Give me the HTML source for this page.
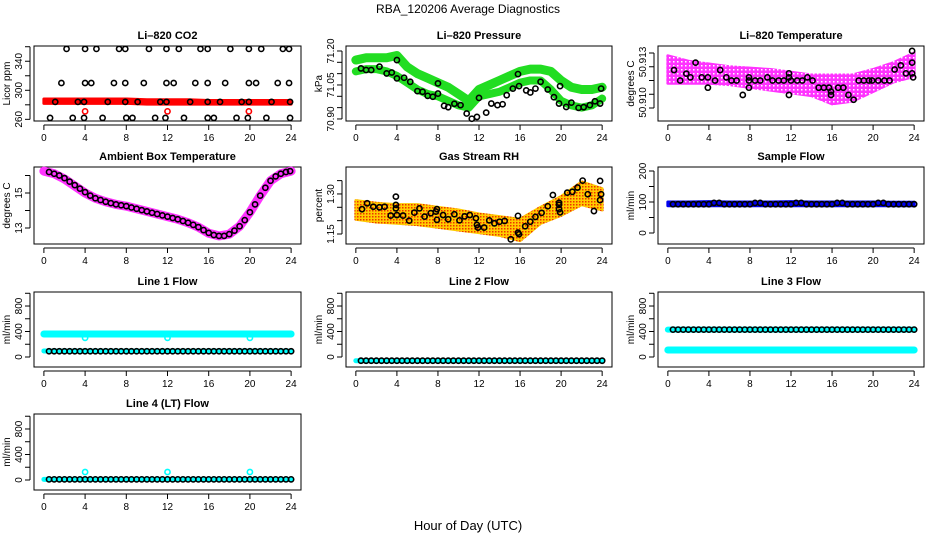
<!DOCTYPE html>
<html><head><meta charset="utf-8"><style>
html,body{margin:0;padding:0;background:#fff}
svg{display:block;font-family:"Liberation Sans",sans-serif}
</style></head><body>
<svg id="c" width="936" height="540" viewBox="0 0 936 540" xmlns="http://www.w3.org/2000/svg">
<defs>
<pattern id="magpat" width="4" height="4" patternUnits="userSpaceOnUse"><rect width="4" height="4" fill="#ff33ff"/><rect x="1" y="1" width="1.5" height="1.5" fill="#ffffff"/></pattern>
<pattern id="rhpat" width="3" height="3" patternUnits="userSpaceOnUse"><rect width="3" height="3" fill="#ffcc00"/><rect x="0" y="0" width="1.5" height="1.5" fill="#ee3300"/></pattern>
</defs>
<text x="468" y="13" text-anchor="middle" font-size="12">RBA_120206  Average Diagnostics</text>
<text x="468" y="530" text-anchor="middle" font-size="13">Hour of Day (UTC)</text>
</svg>
<script>
// ---- data ----
const hoursTicks = [0,4,8,12,16,20,24];
const band2hTimes = [0,2,4,6,8,10,12,14,16,18,20,22,24];
const hourly = [0,1,2,3,4,5,6,7,8,9,10,11,12,13,14,15,16,17,18,19,20,21,22,23,24];
// CO2
const co2RedHi = [288,288,288,288,288,287,287,287,286,286,286,286,286];
const co2RedLo = [282,282,282,282,282,281,281,281,281,281,281,281,281];
const co2BlackT = [2.2,4.0,5.1,7.3,7.9,10.2,11.9,13.1,15.2,15.9,18.1,19.9,21.1,23.2,23.8,
 1.7,4.0,4.6,6.8,7.9,9.7,11.9,12.6,14.7,15.9,17.6,19.9,20.6,22.7,23.8,
 1.1,3.3,3.9,6.2,7.9,9.1,11.3,11.9,14.2,15.9,17.1,19.2,19.9,22.1,23.9,
 0.6,2.8,3.9,5.7,8.0,8.6,10.8,11.8,13.6,15.9,16.5,18.7,19.8,21.6,23.9];
const co2BlackV = [357,357,357,357,357,357,357,357,357,357,357,357,357,357,357,
 310,310,310,310,310,310,310,310,310,310,310,310,310,310,310,
 284,284,284,284,284,284,284,284,284,284,284,284,284,284,284,
 262,262,262,262,262,262,262,262,262,262,262,262,262,262,262];
const co2RedT = [4.0,12.0,19.9];
const co2RedV = [271,271,271];
// Pressure
const presUpper = [71.16,71.17,71.17,71.17,71.18,71.13,71.10,71.08,71.06,71.04,71.01,70.98,71.03,71.05,71.07,71.09,71.11,71.12,71.12,71.11,71.07,71.04,71.03,71.03,71.04];
const presLower = [71.11,71.12,71.12,71.11,71.09,71.06,71.03,71.01,71.00,70.98,70.96,70.95,71.00,71.01,71.02,71.04,71.06,71.07,71.07,71.03,70.98,70.96,70.95,70.96,70.99];
const presBlackT = [0.5,1,1.5,2.3,3,3.5,4,4,4.7,5.3,6,6.5,7,7.5,8,8,8.6,9,9.6,10.2,10.8,11.3,11.8,12,12.7,13.2,13.8,14.3,14.7,15.3,15.8,15.9,16.6,17,17.5,18,18.7,19.3,19.8,19.9,20.5,21,21.7,22.2,22.8,23.3,23.8,23.9];
const presBlackV = [71.123,71.116,71.116,71.131,71.101,71.105,71.160,71.079,71.082,71.064,71.023,71.020,71.002,70.998,71.057,71.012,70.958,70.952,70.967,70.961,70.924,70.901,70.909,70.993,70.928,70.968,70.961,70.965,71.005,71.034,71.098,71.045,71.026,71.017,71.034,71.064,71.030,70.996,70.968,71.045,70.953,70.972,70.949,70.952,70.961,70.978,70.968,71.034];
// Li-820 temperature (units = tick index)
const tempHi = [3.8,3.4,3.2,3.0,2.9,2.8,2.6,2.4,2.4,2.4,2.8,3.3,4.0];
const tempLo = [1.8,1.8,1.8,1.7,1.5,1.3,1.1,0.9,0.3,0.5,1.2,1.9,2.3];
const tempBlackT = [0.6,1.2,1.8,2.2,2.7,3.3,3.9,3.9,4.6,5.1,5.7,6.2,6.7,7.3,7.9,7.9,7.9,8.5,9.0,9.7,10.2,10.8,11.3,11.8,11.8,11.8,12.0,12.6,13.1,13.6,14.1,14.7,15.2,15.7,15.9,15.9,16.6,17.1,17.6,18.1,18.6,19.1,19.6,19.9,20.5,21.1,21.6,22.1,22.7,23.2,23.8,23.8,23.8,23.9];
const tempBlackV = [2.76,2.0,2.5,2.23,3.3,2.23,2.23,1.48,2.0,2.76,2.23,2.0,2.0,0.95,2.23,2.0,1.48,2.0,2.0,2.23,2.0,2.0,2.0,2.52,2.23,0.95,2.0,2.0,2.0,2.23,2.0,1.48,1.48,1.48,1.2,0.95,1.48,1.48,0.95,0.6,2.0,2.0,2.0,2.0,2.0,2.0,2.0,2.8,3.1,2.52,4.15,3.3,2.52,2.23];
const tempTickLabelPos = [3.35,0.4];
const tempTickLabels = ["50.913","50.910"];
// Ambient box temperature
const ambCurve = [16.25,16.1,15.8,15.4,15.0,14.7,14.5,14.35,14.25,14.1,13.95,13.8,13.65,13.5,13.3,13.05,12.7,12.55,12.65,13.1,13.9,14.85,15.7,16.1,16.25];
const ambBlackV = [16.2,16.1,16.0,15.85,15.65,15.45,15.25,15.05,14.85,14.7,14.6,14.5,14.42,14.35,14.3,14.25,14.17,14.1,14.02,13.95,13.87,13.8,13.72,13.65,13.57,13.5,13.4,13.3,13.18,13.05,12.88,12.72,12.6,12.55,12.55,12.65,12.85,13.1,13.45,13.9,14.35,14.85,15.3,15.7,15.95,16.1,16.2,16.25];
// Gas stream RH
const rhHi = [1.275,1.265,1.26,1.26,1.25,1.24,1.225,1.215,1.205,1.25,1.29,1.345,1.32];
const rhLo = [1.205,1.195,1.19,1.185,1.175,1.165,1.155,1.145,1.125,1.19,1.22,1.26,1.24];
const rhBlackT = [0.6,1.1,1.7,2.3,2.8,3.4,3.9,3.9,3.9,4.0,4.6,5.2,5.7,6.2,6.7,7.3,7.8,7.9,7.9,8.5,9.0,9.6,10.1,10.6,11.1,11.7,11.8,11.9,12.5,13.0,13.5,14.0,14.5,15.1,15.8,15.8,15.9,16.5,17.0,17.5,18.1,18.7,19.2,19.8,19.8,19.8,19.9,20.6,21.1,21.6,22.1,22.6,23.2,23.8,23.8,23.9];
const rhBlackV = [1.243,1.265,1.252,1.25,1.252,1.219,1.29,1.259,1.246,1.221,1.219,1.2,1.23,1.246,1.215,1.228,1.234,1.243,1.203,1.221,1.205,1.224,1.201,1.216,1.221,1.209,1.184,1.174,1.174,1.201,1.19,1.196,1.199,1.13,1.218,1.155,1.149,1.179,1.196,1.214,1.229,1.254,1.296,1.267,1.259,1.243,1.231,1.305,1.308,1.324,1.35,1.299,1.236,1.277,1.349,1.299];
// Sample flow
const sampleHi = [100,100,101,100,100,100,101,100,100,100,100,99,99];
const sampleLo = [88,88,88,88,88,88,88,88,88,88,88,88,88];
const sampleBlack = [93,93,93,93,97,93,93,93,97,93,93,93,97,93,93,93,97,93,93,93,97,93,93,93];
// Line flows
const line1Black = [90,90,90,90,90,90,90,90,90,90,90,90,90,90,90,90,90,90,90,90,90,90,90,90];
const line1Cyan = 361, line1CyanLow = 95;
const line1CircT = [4,12,20];
const line1CircV = [300,300,300];
const line2Black = [-58,-58,-58,-58,-58,-58,-58,-58,-58,-58,-58,-58,-58,-58,-58,-58,-58,-58,-58,-58,-58,-58,-58,-58];
const line3Black = [430,430,430,430,430,430,430,430,430,430,430,430,430,430,430,430,430,430,430,430,430,430,430,430];
const line3CyanHi = 430, line3CyanLow = 110;
const line4Black = [10,10,10,10,10,10,10,10,10,10,10,10,10,10,10,10,10,10,10,10,10,10,10,10];
const line4CircT = [4,12,20];
const line4CircV = [125,125,125];

// ---- drawing ----
const NS = "http://www.w3.org/2000/svg";
const svg = document.getElementById('c');
const COLS = [[34,301],[346,612],[658,924]];
const ROWS = [[46,121],[167,244],[292,367],[414,490]];
function mk(tag, attrs, parent){const e=document.createElementNS(NS,tag);for(const k in attrs)e.setAttribute(k,attrs[k]);(parent||svg).appendChild(e);return e;}

function panel(ci, ri, name, title, ylab, dom, ticks, labVals, labTexts){
  const [L,R]=COLS[ci],[T,B]=ROWS[ri];
  const g=mk('g',{});
  
  
  const sx=t=>L+(t+0.96)/25.92*(R-L);
  const sy=v=>B-(v-dom[0])/(dom[1]-dom[0])*(B-T);
  const box=mk('rect',{x:L,y:T,width:R-L,height:B-T,fill:'none',stroke:'#000','stroke-width':1},g);
  
  
  const tt=mk('text',{x:(L+R)/2,y:T-7,'text-anchor':'middle','font-size':11,'font-weight':'bold'},g);
  tt.textContent=title;
  
  
  const xa=mk('g',{},g);
  
  
  mk('line',{x1:sx(0),x2:sx(24),y1:B+4,y2:B+4,stroke:'#000'},xa);
  hoursTicks.forEach(h=>{
    mk('line',{x1:sx(h),x2:sx(h),y1:B+4,y2:B+9,stroke:'#000'},xa);
    const t=mk('text',{x:sx(h),y:B+20,'text-anchor':'middle','font-size':10},xa);t.textContent=h;
  });
  const ya=mk('g',{},g);
  
  
  mk('line',{x1:L-4,x2:L-4,y1:sy(ticks[0]),y2:sy(ticks[ticks.length-1]),stroke:'#000'},ya);
  ticks.forEach(v=>mk('line',{x1:L-9,x2:L-4,y1:sy(v),y2:sy(v),stroke:'#000'},ya));
  labVals.forEach((v,i)=>{
    const t=mk('text',{x:0,y:0,'text-anchor':'middle','font-size':10,transform:`translate(${L-12},${sy(v)}) rotate(-90)`},ya);
    t.textContent=labTexts[i];
  });
  const yl=mk('text',{x:0,y:0,'text-anchor':'middle','font-size':10,transform:`translate(${L-24},${(T+B)/2}) rotate(-90)`},g);
  yl.textContent=ylab;
  
  
  return {g,sx,sy};
}
function band(p, ts, hi, lo, color, name){
  const pts=ts.map((t,i)=>p.sx(t)+','+p.sy(hi[i])).concat(ts.slice().reverse().map((t,j)=>{const i=ts.length-1-j;return p.sx(t)+','+p.sy(lo[i]);}));
  const e=mk('polygon',{points:pts.join(' '),fill:color,stroke:color,'stroke-width':3,'stroke-linejoin':'round'},p.g);
  
  
}
function thick(p, ts, vs, color, w, name){
  const e=mk('polyline',{points:ts.map((t,i)=>p.sx(t)+','+p.sy(vs[i])).join(' '),fill:'none',stroke:color,'stroke-width':w,'stroke-linejoin':'round','stroke-linecap':'round'},p.g);
  
  
}
function pts(p, ts, vs, color, name){
  const gg=mk('g',{},p.g);
  
  
  ts.forEach((t,i)=>mk('circle',{cx:p.sx(t),cy:p.sy(vs[i]),r:2.6,fill:'none',stroke:color,'stroke-width':1.6},gg));
}
function hourlyPts(p, vs, color, name){
  const ts=[],v2=[];
  vs.forEach((v,i)=>{ts.push(i+0.5);v2.push(v);ts.push(i+1);v2.push(v);});
  pts(p, ts, v2, color, name);
}

let p=panel(0,0,'co2','Li\u2013820 CO2','Licor ppm',[257.7,361],[260,280,300,320,340,360],[260,300,340],['260','300','340']);
band(p,band2hTimes,co2RedHi,co2RedLo,'#ff0000','co2-red-series');
pts(p,co2BlackT,co2BlackV,'#000','co2-black-points');
pts(p,co2RedT,co2RedV,'#ff0000','co2-red-points');

p=panel(1,0,'pressure','Li\u2013820 Pressure','kPa',[70.891,71.222],[70.90,70.95,71.00,71.05,71.10,71.15,71.20],[70.90,71.05,71.20],['70.90','71.05','71.20']);
thick(p,hourly,presUpper,'#22dd22',9,'pressure-green-upper');
thick(p,hourly,presLower,'#22dd22',8,'pressure-green-lower');
pts(p,presBlackT,presBlackV,'#000','pressure-black-points');

p=panel(2,0,'li820-temp','Li\u2013820 Temperature','degrees C',[-0.945,4.51],[0,1,2,3,4],tempTickLabelPos,tempTickLabels);
band(p,band2hTimes,tempHi,tempLo,'url(#magpat)','temp-magenta-series');
pts(p,tempBlackT,tempBlackV,'#000','temp-black-points');

p=panel(0,1,'ambient','Ambient Box Temperature','degrees C',[12.086,16.486],[13,14,15,16],[13,15],['13','15']);
thick(p,hourly,ambCurve,'#ff33ff',9,'ambient-magenta-series');
pts(p,ambBlackV.map((v,i)=>Math.min(0.5*(i+1),23.9)),ambBlackV,'#000','ambient-black-points');

p=panel(1,1,'rh','Gas Stream RH','percent',[1.1125,1.401],[1.15,1.20,1.25,1.30,1.35],[1.15,1.30],['1.15','1.30']);
band(p,band2hTimes,rhHi,rhLo,'url(#rhpat)','rh-orange-series');
pts(p,rhBlackT,rhBlackV,'#000','rh-black-points');

p=panel(2,1,'sample-flow','Sample Flow','ml/min',[-35.5,212.9],[0,50,100,150,200],[0,100,200],['0','100','200']);
band(p,band2hTimes,sampleHi,sampleLo,'#0000ee','sample-blue-series');
hourlyPts(p,sampleBlack,'#000','sample-black-points');
const FD=[-157,1020], FT=[0,200,400,600,800,1000], FL=[0,400,800], FLT=['0','400','800'];

p=panel(0,2,'line1','Line 1 Flow','ml/min',FD,FT,FL,FLT);
thick(p,[0,24],[line1Cyan,line1Cyan],'#00ffff',7,'line1-cyan-series');
thick(p,[0,24],[line1CyanLow,line1CyanLow],'#00ffff',5,'line1-cyan-low');
hourlyPts(p,line1Black,'#000','line1-black-points');
pts(p,line1CircT,line1CircV,'#00ffff','line1-cyan-points');

p=panel(1,2,'line2','Line 2 Flow','ml/min',FD,FT,FL,FLT);
thick(p,[0,24],[-58,-58],'#00ffff',5,'line2-cyan-series');
hourlyPts(p,line2Black,'#000','line2-black-points');

p=panel(2,2,'line3','Line 3 Flow','ml/min',FD,FT,FL,FLT);
thick(p,[0,24],[line3CyanHi,line3CyanHi],'#00ffff',6,'line3-cyan-high');
thick(p,[0,24],[line3CyanLow,line3CyanLow],'#00ffff',7,'line3-cyan-low');
hourlyPts(p,line3Black,'#000','line3-black-points');

p=panel(0,3,'line4','Line 4 (LT) Flow','ml/min',[-157,1035],FT,FL,FLT);
thick(p,[0,24],[10,10],'#00ffff',5,'line4-cyan-series');
hourlyPts(p,line4Black,'#000','line4-black-points');
pts(p,line4CircT,line4CircV,'#00ffff','line4-cyan-points');
</script>
</body></html>
